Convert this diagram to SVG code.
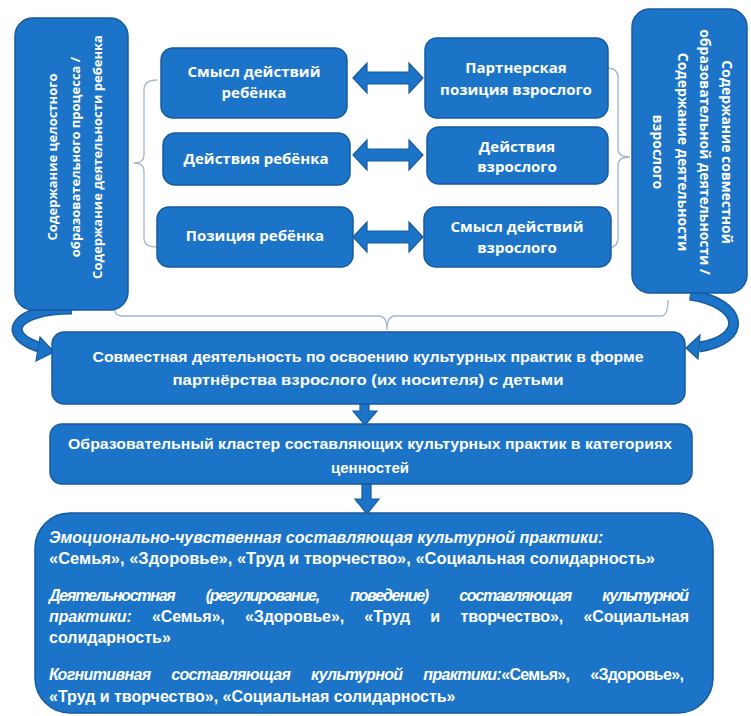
<svg xmlns="http://www.w3.org/2000/svg" width="751" height="716" viewBox="0 0 751 716">
<style>
.box{fill:#1b74c8;stroke:#175a9e;stroke-width:1.5}
.t{fill:#fff;font-family:"Open Sans","Liberation Sans",sans-serif;font-weight:700;text-anchor:middle}
.c{fill:#fff;font-family:"Liberation Sans",Arial,sans-serif;font-weight:700;text-anchor:middle;font-size:15px}
.b{fill:#fff;font-family:"Liberation Sans",Arial,sans-serif;font-weight:700;font-size:16px}
.i{font-style:italic}
.br{fill:none;stroke:#9fb6d2;stroke-width:1.3}
.arr{fill:#1b74c8;stroke:#175a9e;stroke-width:1.2}
.curve{fill:none;stroke:#175a9e;stroke-width:11}
.curve2{fill:none;stroke:#1b74c8;stroke-width:8}
</style>
<rect width="751" height="716" fill="#fff"/>

<g id="connectors">
  <path class="br" d="M157 80 Q144 80 144 90 L144 155 Q144 163 134 163 Q144 163 144 171 L144 238 Q144 247 157 247"/>
  <path class="br" d="M607 68 Q618 68 618 78 L618 149 Q618 157 630 157 Q618 157 618 165 L618 238 Q618 248 607 248"/>
  <path class="br" d="M115 310 Q115 316 123 316 L379 316 Q387 316 387 330 Q387 316 395 316 L661 316 Q668 316 668 300"/>
  <path class="arr" d="M353 78 L367 63 L367 72 L409 72 L409 63 L423 78 L409 93 L409 84 L367 84 L367 93 Z"/>
  <path class="arr" d="M353 155 L367 140 L367 149 L409 149 L409 140 L423 155 L409 170 L409 161 L367 161 L367 170 Z"/>
  <path class="arr" d="M353 237 L367 222 L367 231 L409 231 L409 222 L423 237 L409 252 L409 243 L367 243 L367 252 Z"/>
  <path class="curve" d="M72 309 C12 309 0 336 42 348"/>
  <path class="curve2" d="M72 309 C12 309 0 336 42 348"/>
  <polygon class="arr" points="54,352 40,337 36,361"/>
  <path class="curve" d="M690 295 C745 303 748 340 699 347"/>
  <path class="curve2" d="M690 295 C745 303 748 340 699 347"/>
  <polygon class="arr" points="686,348 700,335 698,359"/>
  <path class="arr" d="M360 403 L369 403 L369 411 L377 411 L365 425 L353 411 L360 411 Z"/>
  <path class="arr" d="M362 484 L371 484 L371 499 L379 499 L367 514 L355 499 L362 499 Z"/>
</g>

<g id="left-box">
  <rect class="box" x="15" y="18" width="113" height="292" rx="18"/>
  <g transform="translate(72 157) rotate(-90)" class="t" font-size="13">
    <text x="0" y="-15">Содержание целостного</text>
    <text x="0" y="8">образовательного процесса /</text>
    <text x="0" y="30">Содержание деятельности ребенка</text>
  </g>
</g>

<g id="right-box">
  <rect class="box" x="632" y="9" width="115" height="284" rx="18"/>
  <g transform="translate(690 152) rotate(90)" class="t" font-size="14">
    <text x="0" y="-32">Содержание совместной</text>
    <text x="0" y="-10">образовательной деятельности /</text>
    <text x="0" y="12">Содержание деятельности</text>
    <text x="0" y="37">взрослого</text>
  </g>
</g>

<g id="child-meaning">
  <rect class="box" x="161" y="48" width="186" height="70" rx="12"/>
  <text class="t" font-size="15" x="254" y="77">Смысл действий</text>
  <text class="t" font-size="15" x="254" y="98">ребёнка</text>
</g>
<g id="adult-partner">
  <rect class="box" x="425" y="38" width="183" height="80" rx="12"/>
  <text class="t" font-size="15" x="516" y="73">Партнерская</text>
  <text class="t" font-size="15" x="516" y="95">позиция взрослого</text>
</g>
<g id="child-actions">
  <rect class="box" x="163" y="133" width="187" height="52" rx="12"/>
  <text class="t" font-size="15" x="256" y="164">Действия ребёнка</text>
</g>
<g id="adult-actions">
  <rect class="box" x="427" y="127" width="181" height="57" rx="12"/>
  <text class="t" font-size="15" x="517" y="152">Действия</text>
  <text class="t" font-size="15" x="517" y="172">взрослого</text>
</g>
<g id="child-position">
  <rect class="box" x="157" y="207" width="196" height="60" rx="12"/>
  <text class="t" font-size="15" x="255" y="241">Позиция ребёнка</text>
</g>
<g id="adult-meaning">
  <rect class="box" x="424" y="207" width="187" height="60" rx="12"/>
  <text class="t" font-size="15" x="517" y="232">Смысл действий</text>
  <text class="t" font-size="15" x="517" y="253">взрослого</text>
</g>

<g id="joint-activity">
  <rect class="box" x="52" y="332" width="633" height="72" rx="12"/>
  <text class="c" x="368" y="362" textLength="551" lengthAdjust="spacingAndGlyphs">Совместная деятельность по освоению культурных практик в форме</text>
  <text class="c" x="368" y="385" textLength="391" lengthAdjust="spacingAndGlyphs">партнёрства взрослого (их носителя) с детьми</text>
</g>

<g id="cluster">
  <rect class="box" x="50" y="424" width="642" height="60" rx="12"/>
  <text class="c" x="370" y="449" textLength="604" lengthAdjust="spacingAndGlyphs">Образовательный кластер составляющих культурных практик в категориях</text>
  <text class="c" x="370" y="473">ценностей</text>
</g>

<g id="components">
  <rect class="box" x="35" y="513" width="678" height="200" rx="35"/>
  <text class="b i" x="49" y="543">Эмоционально-чувственная составляющая культурной практики:</text>
  <text class="b" x="49" y="564" textLength="606" lengthAdjust="spacingAndGlyphs">«Семья», «Здоровье», «Труд и творчество», «Социальная солидарность»</text>
  <text class="b i" x="49" y="601" word-spacing="28" textLength="640" lengthAdjust="spacing">Деятельностная (регулирование, поведение) составляющая культурной</text>
  <text class="b" x="49" y="622" word-spacing="16" textLength="640" lengthAdjust="spacing"><tspan class="i">практики:</tspan> «Семья», «Здоровье», «Труд и творчество», «Социальная</text>
  <text class="b" x="49" y="643">солидарность»</text>
  <text class="b" x="49" y="680" word-spacing="17" textLength="635" lengthAdjust="spacing"><tspan class="i">Когнитивная составляющая культурной практики:</tspan>«Семья», «Здоровье»,</text>
  <text class="b" x="49" y="702">«Труд и творчество», «Социальная солидарность»</text>
</g>
</svg>
